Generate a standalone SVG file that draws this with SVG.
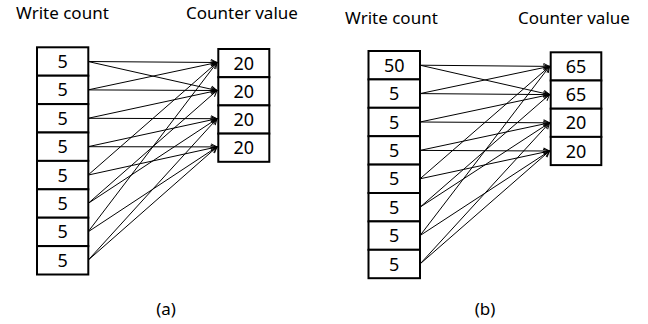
<svg xmlns="http://www.w3.org/2000/svg" width="648" height="324" viewBox="0 0 648 324">
  <style>
    .lbl { font-family: "Noto Sans", "Open Sans", sans-serif; font-size: 17px; fill: #000; }
    .num { font-family: "Noto Sans", "Open Sans", sans-serif; font-size: 18px; fill: #000; text-anchor: middle; }
    .cell { fill: #fff; stroke: #000; stroke-width: 2; }
    .link { stroke: #000; stroke-width: 1; fill: none; marker-end: url(#arrow); }
  </style>
  <defs>
    <marker id="arrow" markerWidth="8" markerHeight="8" refX="7" refY="4" orient="auto" markerUnits="userSpaceOnUse">
      <path d="M1,1 L7,4 L1,7" fill="none" stroke="#000" stroke-width="1"/>
    </marker>
  </defs>
  <rect width="648" height="324" fill="#fff"/>

  <!-- Panel (a) -->
  <g id="panel-a">
    <text class="lbl" x="16" y="19">Write count</text>
    <text class="lbl" x="186" y="19">Counter value</text>

    <g id="a-connectors">
      <line class="link" x1="88" y1="61.5" x2="217" y2="62.5"/>
      <line class="link" x1="88" y1="61.5" x2="217" y2="90.5"/>
      <line class="link" x1="88" y1="89.9" x2="217" y2="62.5"/>
      <line class="link" x1="88" y1="89.9" x2="217" y2="90.5"/>
      <line class="link" x1="88" y1="118.3" x2="217" y2="90.5"/>
      <line class="link" x1="88" y1="118.3" x2="217" y2="118.7"/>
      <line class="link" x1="88" y1="146.7" x2="217" y2="118.7"/>
      <line class="link" x1="88" y1="146.7" x2="217" y2="146.9"/>
      <line class="link" x1="88" y1="175.1" x2="217" y2="62.5"/>
      <line class="link" x1="88" y1="175.1" x2="217" y2="146.9"/>
      <line class="link" x1="88" y1="203.5" x2="217" y2="90.5"/>
      <line class="link" x1="88" y1="203.5" x2="217" y2="118.7"/>
      <line class="link" x1="88" y1="231.9" x2="217" y2="62.5"/>
      <line class="link" x1="88" y1="231.9" x2="217" y2="146.9"/>
      <line class="link" x1="88" y1="260.3" x2="217" y2="118.7"/>
      <line class="link" x1="88" y1="260.3" x2="217" y2="146.9"/>
    </g>

    <g id="a-write">
      <g id="a-w1"><rect class="cell" x="37" y="47.3" width="51.3" height="28.4"/><text class="num" x="62.6" y="68">5</text></g>
      <g id="a-w2"><rect class="cell" x="37" y="75.7" width="51.3" height="28.4"/><text class="num" x="62.6" y="96.4">5</text></g>
      <g id="a-w3"><rect class="cell" x="37" y="104.1" width="51.3" height="28.4"/><text class="num" x="62.6" y="124.8">5</text></g>
      <g id="a-w4"><rect class="cell" x="37" y="132.5" width="51.3" height="28.4"/><text class="num" x="62.6" y="153.2">5</text></g>
      <g id="a-w5"><rect class="cell" x="37" y="160.9" width="51.3" height="28.4"/><text class="num" x="62.6" y="181.6">5</text></g>
      <g id="a-w6"><rect class="cell" x="37" y="189.3" width="51.3" height="28.4"/><text class="num" x="62.6" y="210">5</text></g>
      <g id="a-w7"><rect class="cell" x="37" y="217.7" width="51.3" height="28.4"/><text class="num" x="62.6" y="238.4">5</text></g>
      <g id="a-w8"><rect class="cell" x="37" y="246.1" width="51.3" height="28.4"/><text class="num" x="62.6" y="266.8">5</text></g>
    </g>

    <g id="a-counter">
      <g id="a-c1"><rect class="cell" x="218.3" y="49" width="51" height="28.2"/><text class="num" x="243.8" y="69.6">20</text></g>
      <g id="a-c2"><rect class="cell" x="218.3" y="77.2" width="51" height="28.2"/><text class="num" x="243.8" y="97.8">20</text></g>
      <g id="a-c3"><rect class="cell" x="218.3" y="105.4" width="51" height="28.2"/><text class="num" x="243.8" y="126">20</text></g>
      <g id="a-c4"><rect class="cell" x="218.3" y="133.6" width="51" height="28.2"/><text class="num" x="243.8" y="154.2">20</text></g>
    </g>

    <text class="lbl" x="166" y="315" text-anchor="middle">(a)</text>
  </g>

  <!-- Panel (b) -->
  <g id="panel-b">
    <text class="lbl" x="345" y="24">Write count</text>
    <text class="lbl" x="518" y="24">Counter value</text>

    <g id="b-connectors">
      <line class="link" x1="420" y1="65.2" x2="549.5" y2="66.4"/>
      <line class="link" x1="420" y1="65.2" x2="549.5" y2="94.6"/>
      <line class="link" x1="420" y1="93.6" x2="549.5" y2="66.4"/>
      <line class="link" x1="420" y1="93.6" x2="549.5" y2="94.6"/>
      <line class="link" x1="420" y1="122" x2="549.5" y2="94.6"/>
      <line class="link" x1="420" y1="122" x2="549.5" y2="122.8"/>
      <line class="link" x1="420" y1="150.4" x2="549.5" y2="122.8"/>
      <line class="link" x1="420" y1="150.4" x2="549.5" y2="151"/>
      <line class="link" x1="420" y1="178.8" x2="549.5" y2="66.4"/>
      <line class="link" x1="420" y1="178.8" x2="549.5" y2="151"/>
      <line class="link" x1="420" y1="207.2" x2="549.5" y2="94.6"/>
      <line class="link" x1="420" y1="207.2" x2="549.5" y2="122.8"/>
      <line class="link" x1="420" y1="235.6" x2="549.5" y2="66.4"/>
      <line class="link" x1="420" y1="235.6" x2="549.5" y2="151"/>
      <line class="link" x1="420" y1="264" x2="549.5" y2="122.8"/>
      <line class="link" x1="420" y1="264" x2="549.5" y2="151"/>
    </g>

    <g id="b-write">
      <g id="b-w1"><rect class="cell" x="368.5" y="51" width="51.5" height="28.4"/><text class="num" x="394.2" y="71.7">50</text></g>
      <g id="b-w2"><rect class="cell" x="368.5" y="79.4" width="51.5" height="28.4"/><text class="num" x="394.2" y="100.1">5</text></g>
      <g id="b-w3"><rect class="cell" x="368.5" y="107.8" width="51.5" height="28.4"/><text class="num" x="394.2" y="128.5">5</text></g>
      <g id="b-w4"><rect class="cell" x="368.5" y="136.2" width="51.5" height="28.4"/><text class="num" x="394.2" y="156.9">5</text></g>
      <g id="b-w5"><rect class="cell" x="368.5" y="164.6" width="51.5" height="28.4"/><text class="num" x="394.2" y="185.3">5</text></g>
      <g id="b-w6"><rect class="cell" x="368.5" y="193" width="51.5" height="28.4"/><text class="num" x="394.2" y="213.7">5</text></g>
      <g id="b-w7"><rect class="cell" x="368.5" y="221.4" width="51.5" height="28.4"/><text class="num" x="394.2" y="242.1">5</text></g>
      <g id="b-w8"><rect class="cell" x="368.5" y="249.8" width="51.5" height="28.4"/><text class="num" x="394.2" y="270.5">5</text></g>
    </g>

    <g id="b-counter">
      <g id="b-c1"><rect class="cell" x="550.7" y="52.3" width="50.6" height="28.2"/><text class="num" x="576" y="72.9">65</text></g>
      <g id="b-c2"><rect class="cell" x="550.7" y="80.5" width="50.6" height="28.2"/><text class="num" x="576" y="101.1">65</text></g>
      <g id="b-c3"><rect class="cell" x="550.7" y="108.7" width="50.6" height="28.2"/><text class="num" x="576" y="129.3">20</text></g>
      <g id="b-c4"><rect class="cell" x="550.7" y="136.9" width="50.6" height="28.2"/><text class="num" x="576" y="157.5">20</text></g>
    </g>

    <text class="lbl" x="485" y="315" text-anchor="middle">(b)</text>
  </g>
</svg>
